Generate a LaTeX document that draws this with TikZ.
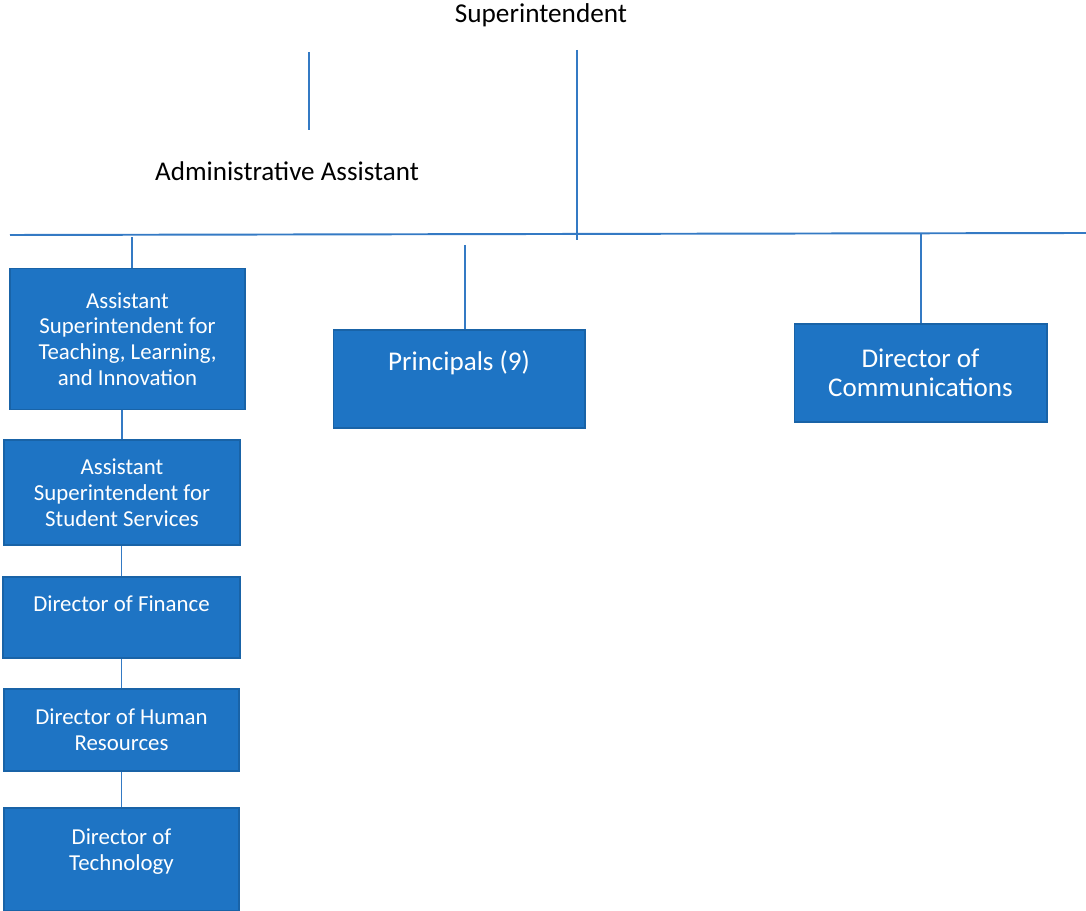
\documentclass[tikz,border=0pt]{standalone}
\usepackage{fontspec}
\setmainfont{Carlito}
\usetikzlibrary{positioning,calc}
\definecolor{orgblue}{RGB}{30,116,196}
\definecolor{orgline}{RGB}{52,122,196}

\begin{document}
\begin{tikzpicture}[
    x=0.02cm, y=-0.02cm,
    box/.style={rectangle, fill=orgblue, draw=orgblue!85!black, line width=0.6pt, text=white, align=center, inner sep=2pt, font=\fontsize{13}{14.7}\selectfont},
    bigbox/.style={box, font=\fontsize{15.4}{16.4}\selectfont},
    title/.style={text=black, font=\fontsize{15.5}{18}\selectfont},
    link/.style={draw=orgline, line width=1.1pt}
]
\useasboundingbox (0,0) rectangle (1086,911);

% Top - Superintendent and assistant
\node[title] (sup) at (541,15) {Superintendent};
\node[title, font=\fontsize{15.4}{18}\selectfont] (admin) at (287,171) {Administrative Assistant};

% Left column
\node[box, minimum width=4.7cm, minimum height=2.82cm] (tli) at (127.5,339) {Assistant\\Superintendent for\\Teaching, Learning,\\and Innovation};
\node[box, minimum width=4.72cm, minimum height=2.1cm] (ssv) at (122,492.5) {Assistant\\Superintendent for\\Student Services};
\node[box, minimum width=4.74cm, minimum height=1.62cm, text depth=0.55cm] (fin) at (121.5,617.5) {Director of Finance};
\node[box, minimum width=4.7cm, minimum height=1.64cm] (hr) at (121.5,730) {Director of Human\\Resources};
\node[box, minimum width=4.7cm, minimum height=2.06cm, text depth=0.38cm] (tech) at (121.5,859.5) {Director of\\Technology};

% Middle and right
\node[bigbox, minimum width=5.04cm, minimum height=1.96cm, text depth=0.72cm] (prin) at (459,379) {Principals (9)};
\node[bigbox, minimum width=5.06cm, minimum height=1.96cm] (comm) at (920.5,373) {Director of\\Communications};

% Lines
\coordinate (supTop) at (577,50);
\coordinate (supBot) at (577,240);
\coordinate (admTop) at (309,52);
\coordinate (admBot) at (309,130);
\coordinate (busW) at (10,235);
\coordinate (busE) at (1086,233);
\coordinate (dropA) at (132,237);
\coordinate (dropB) at (465,245);
\coordinate (dropC) at (921,234);

\draw[link] (supTop) -- (supBot);
\draw[link] (admTop) -- (admBot);
\draw[link] (busW) -- (busE);
\draw[link] (dropA) -- (dropA |- tli.north);
\draw[link] (dropB) -- (dropB |- prin.north);
\draw[link] (dropC) -- (dropC |- comm.north);
\draw[link] (ssv.north |- tli.south) -- (ssv.north);
\draw[link] (fin.north |- ssv.south) -- (fin.north);
\draw[link] (hr.north |- fin.south) -- (hr.north);
\draw[link] (tech.north |- hr.south) -- (tech.north);

\end{tikzpicture}
\end{document}
